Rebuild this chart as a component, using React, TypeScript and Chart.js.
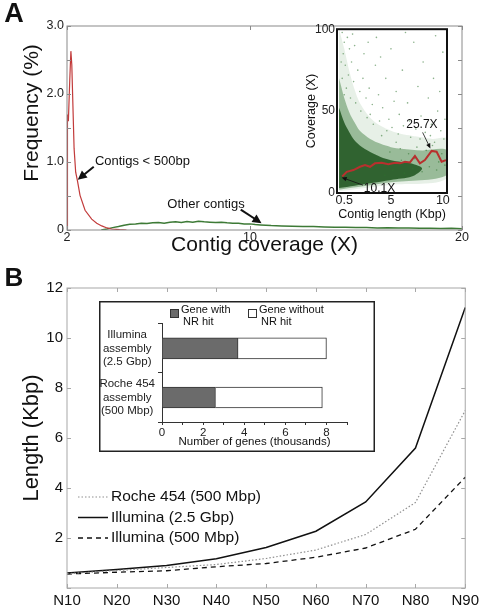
import React, { useEffect, useRef } from "react";
import { Chart, registerables, LinearScale } from "chart.js";

// ---------------- DATA ----------------
// Panel A main: coverage histogram
const RED_COVERAGE = [2.0, 2.02, 2.06, 2.12, 2.17, 2.21, 2.31, 2.38, 2.46, 2.57, 2.79, 3.08, 3.3, 3.52, 3.75, 3.95, 4.3, 4.6];
const RED_FREQ = [0, 1.7, 1.6, 2.2, 2.63, 2.43, 1.2, 0.85, 0.72, 0.51, 0.29, 0.16, 0.1, 0.06, 0.03, 0.015, 0.005, 0];
const GREEN_COVERAGE = [3.5, 3.75, 4.0, 4.25, 4.5, 4.75, 5.0, 5.25, 5.5, 5.75, 6.0, 6.25, 6.5, 6.75, 7.0, 7.25, 7.5, 7.75, 8.0, 8.25, 8.5, 8.75, 9.0, 9.25, 9.5, 9.75, 10.0, 10.25, 10.5, 10.75, 11.0, 11.5, 12.0, 12.5, 13.0, 13.5, 14.0, 14.5, 15.0, 15.5, 16.0, 16.5, 17.0, 17.5, 18.0, 18.5, 19.0, 19.5, 20.0];
const GREEN_FREQ = [0, 0.015, 0.035, 0.05, 0.07, 0.085, 0.09, 0.1, 0.095, 0.105, 0.11, 0.1, 0.115, 0.12, 0.11, 0.125, 0.115, 0.13, 0.12, 0.115, 0.11, 0.115, 0.105, 0.1, 0.1, 0.09, 0.09, 0.08, 0.075, 0.07, 0.065, 0.06, 0.055, 0.05, 0.05, 0.045, 0.04, 0.042, 0.035, 0.038, 0.03, 0.032, 0.028, 0.03, 0.025, 0.027, 0.022, 0.024, 0.02];
const A_X_TICKS = [2, 10, 20];

// Panel A inset: coverage vs contig length
const INSET_RED_LEN = [0.3, 0.74, 1.38, 2.02, 2.5, 2.98, 3.46, 4.1, 4.74, 5.39, 5.87, 6.35, 6.83, 7.31, 7.79, 8.27, 8.92, 9.4, 9.88, 10.3];
const INSET_RED_COV = [10.1, 12.9, 14.0, 16.0, 17.0, 16.0, 18.1, 18.4, 17.6, 18.4, 18.1, 19.1, 18.7, 22.6, 18.1, 20.1, 25.7, 25.2, 19.1, 20.1];
const CLOUD_LIGHT_LEN = [0, 0.5, 1, 1.5, 2, 3, 4, 5, 6, 7, 8, 9, 10.4, 10.4, 5, 0];
const CLOUD_LIGHT_COV = [100, 88, 74, 63, 55, 46, 41, 38, 36, 35, 34, 33, 33, 9, 5, 1];
const CLOUD_MID_LEN = [0, 0.5, 1, 1.5, 2, 3, 4, 5, 6, 8, 10.4, 10.4, 5, 0];
const CLOUD_MID_COV = [70, 58, 49, 43, 38, 33, 30, 28, 27, 26, 26, 11, 6.5, 2];
const CLOUD_DARK_LEN = [0, 0.5, 1, 1.5, 2, 3, 4, 5, 6, 7, 8, 7, 5, 3, 1.5, 0];
const CLOUD_DARK_COV = [52, 43, 37, 32, 29, 25, 22, 20, 19, 18, 15, 10, 8, 6, 4.5, 3];
const DOTS_LEN = [0.3, 0.5, 0.4, 0.8, 0.6, 1.0, 0.9, 1.2, 0.3, 1.5, 1.4, 0.7, 1.8, 2.0, 1.1, 2.3, 2.6, 1.6, 0.5, 2.9, 3.2, 2.1, 0.2, 1.3, 2.4, 3.5, 2.8, 3.8, 4.2, 3.0,
  4.5, 5.0, 5.5, 6.1, 6.6, 7.2, 7.6, 8.1, 8.6, 9.1, 9.7, 10.0, 4.8, 5.8, 6.8, 7.9, 8.9, 9.5, 10.2, 5.3, 3.6, 4.0, 9.3, 6.4,
  3.3, 4.6, 5.1, 5.7, 6.2, 6.9, 7.4, 7.8, 8.3, 8.8, 9.2, 9.8, 10.1, 4.1, 3.9, 2.7,
  5.2, 5.9, 6.3, 6.7, 7.1, 7.5, 8.0, 8.4, 8.7, 9.0, 9.4, 9.9, 10.2, 6.0, 7.3, 8.5, 9.6, 5.5, 4.4, 4.9];
const DOTS_COV = [98, 92, 85, 95, 78, 88, 72, 80, 70, 90, 68, 64, 75, 62, 58, 70, 58, 55, 60, 64, 54, 50, 80, 97, 85, 78, 92, 60, 52, 48,
  70, 88, 62, 75, 55, 92, 65, 80, 58, 70, 62, 86, 45, 48, 44, 47, 42, 50, 45, 56, 95, 83, 96, 98,
  42, 38, 40, 36, 41, 34, 39, 33, 37, 35, 31, 38, 33, 35, 44, 46,
  14, 27, 12, 24, 15, 28, 13, 26, 16, 29, 14, 24, 17, 20, 21, 22, 19, 31, 11, 25];
const INSET_A_X_TICKS = [0.5, 5, 10];

// Panel B main: N-statistics
const N_LABELS = ["N10", "N20", "N30", "N40", "N50", "N60", "N70", "N80", "N90"];
const ROCHE_454 = [0.57, 0.7, 0.82, 0.94, 1.18, 1.52, 2.14, 3.42, 7.1];
const ILLUMINA_25 = [0.6, 0.74, 0.9, 1.17, 1.62, 2.27, 3.44, 5.6, 11.22];
const ILLUMINA_500 = [0.56, 0.63, 0.69, 0.85, 0.98, 1.23, 1.6, 2.35, 4.43];

// Panel B inset: genes
const ASSEMBLIES = [["Illumina", "assembly", "(2.5 Gbp)"], ["Roche 454", "assembly", "(500 Mbp)"]];
const GENES_WITH_NR = [3.7, 2.6];
const GENES_WITHOUT_NR = [4.3, 5.2];
const INSET_B_LEGEND = [["Gene with", "NR hit"], ["Gene without", "NR hit"]];

// ---------------- SETUP ----------------
const FONT = "'Liberation Sans', Arial, Helvetica, sans-serif";

class BrokenLinearScale extends LinearScale {
  static id = "brokenLinear";
  getPixelForValue(value: any) {
    if (value === null || value === undefined || isNaN(+value)) return NaN;
    const o: any = this.options;
    const bv = o.breakValue, bf = o.breakFraction;
    const v = +value;
    const f = v <= bv ? (bf * (v - this.min)) / (bv - this.min) : bf + ((1 - bf) * (v - bv)) / (this.max - bv);
    return this.getPixelForDecimal(f);
  }
  getValueForPixel(pixel: number) {
    const o: any = this.options;
    const bv = o.breakValue, bf = o.breakFraction;
    const f = this.getDecimalForPixel(pixel);
    return f <= bf ? this.min + (f / bf) * (bv - this.min) : bv + ((f - bf) / (1 - bf)) * (this.max - bv);
  }
}
Chart.register(...registerables, BrokenLinearScale);

const zip = (xs: number[], ys: number[]) => xs.map((x, i) => ({ x, y: ys[i] }));
const HIDDEN_GRID = { display: false, drawTicks: false, tickLength: 0 };

// frame + inward ticks
const framePlugin = {
  id: "frame",
  afterDatasetsDraw(chart: any, _a: any, opts: any) {
    if (!opts || !opts.color) return;
    const { ctx, chartArea: a } = chart;
    ctx.save();
    ctx.strokeStyle = opts.color;
    ctx.lineWidth = opts.width;
    ctx.strokeRect(a.left, a.top, a.right - a.left, a.bottom - a.top);
    const tl = opts.tickLen || 0;
    if (tl > 0) {
      ctx.lineWidth = 1;
      ctx.beginPath();
      const xs = chart.scales.x, ys = chart.scales.y;
      xs.ticks.forEach((_t: any, i: number) => {
        const p = Math.round(xs.getPixelForTick(i)) + 0.5;
        ctx.moveTo(p, a.bottom); ctx.lineTo(p, a.bottom - tl);
        ctx.moveTo(p, a.top); ctx.lineTo(p, a.top + tl);
      });
      ys.ticks.forEach((_t: any, i: number) => {
        const p = Math.round(ys.getPixelForTick(i)) + 0.5;
        ctx.moveTo(a.left, p); ctx.lineTo(a.left + tl, p);
        ctx.moveTo(a.right, p); ctx.lineTo(a.right - tl, p);
      });
      ctx.stroke();
    }
    ctx.restore();
  },
};

// annotations in data coordinates
const notesPlugin = {
  id: "notes",
  afterDatasetsDraw(chart: any, _a: any, opts: any) {
    const items = opts && opts.items;
    if (!items) return;
    const { ctx } = chart;
    const xs = chart.scales.x, ys = chart.scales.y;
    ctx.save();
    for (let k = 0; k < items.length; k++) {
      const it = items[k];
      ctx.fillStyle = "#111";
      ctx.strokeStyle = "#111";
      if (it.type === "text") {
        ctx.font = it.font;
        ctx.textAlign = it.align || "left";
        ctx.textBaseline = "middle";
        ctx.fillText(it.text, xs.getPixelForValue(it.x), ys.getPixelForValue(it.y));
      } else {
        const x1 = xs.getPixelForValue(it.x1), y1 = ys.getPixelForValue(it.y1);
        const x2 = xs.getPixelForValue(it.x2), y2 = ys.getPixelForValue(it.y2);
        const ang = Math.atan2(y2 - y1, x2 - x1);
        const h = it.head, w = it.headW;
        const c = Math.cos(ang), s = Math.sin(ang);
        ctx.lineWidth = it.width;
        ctx.beginPath();
        ctx.moveTo(x1, y1);
        ctx.lineTo(x2 - c * h * 0.7, y2 - s * h * 0.7);
        ctx.stroke();
        ctx.beginPath();
        ctx.moveTo(x2, y2);
        ctx.lineTo(x2 - h * c + w * s, y2 - h * s - w * c);
        ctx.lineTo(x2 - h * c - w * s, y2 - h * s + w * c);
        ctx.closePath();
        ctx.fill();
      }
    }
    ctx.restore();
  },
};

// free texts in pixel coordinates (panel letters, rotated titles)
const textsPlugin = {
  id: "texts",
  afterDraw(chart: any, _a: any, opts: any) {
    const items = opts && opts.items;
    if (!items) return;
    const { ctx } = chart;
    ctx.save();
    for (let k = 0; k < items.length; k++) {
      const it = items[k];
      ctx.save();
      ctx.translate(it.x, it.y);
      if (it.rot) ctx.rotate(it.rot);
      ctx.font = it.font;
      ctx.fillStyle = "#111";
      ctx.textAlign = it.align || "center";
      ctx.textBaseline = "middle";
      ctx.fillText(it.text, 0, 0);
      ctx.restore();
    }
    ctx.restore();
  },
};

// line legend for panel B
const lineLegendPlugin = {
  id: "lineLegend",
  afterDraw(chart: any, _a: any, opts: any) {
    if (!opts || opts.x === undefined) return;
    const { ctx } = chart;
    ctx.save();
    chart.data.datasets.forEach((ds: any, i: number) => {
      const y = opts.y + i * opts.rowH;
      ctx.strokeStyle = ds.borderColor;
      ctx.lineWidth = ds.borderWidth;
      ctx.setLineDash(ds.borderDash || []);
      ctx.beginPath();
      ctx.moveTo(opts.x, y);
      ctx.lineTo(opts.x + opts.sample, y);
      ctx.stroke();
      ctx.setLineDash([]);
      ctx.font = opts.font;
      ctx.fillStyle = "#111";
      ctx.textAlign = "left";
      ctx.textBaseline = "middle";
      ctx.fillText(ds.label, opts.x + opts.sample + opts.gap, y);
    });
    ctx.restore();
  },
};

// box legend for inset B + outer frame
const boxLegendPlugin = {
  id: "boxLegend",
  beforeDraw(chart: any) {
    const { ctx, width, height } = chart;
    ctx.save();
    ctx.fillStyle = "#fff";
    ctx.fillRect(0, 0, width, height);
    ctx.restore();
  },
  afterDraw(chart: any, _a: any, opts: any) {
    const { ctx, width, height } = chart;
    ctx.save();
    ctx.strokeStyle = "#222";
    ctx.lineWidth = 1.5;
    ctx.strokeRect(0.75, 0.75, width - 1.5, height - 1.5);
    if (opts && opts.xs) {
      chart.data.datasets.forEach((ds: any, i: number) => {
        const x = opts.xs[i], y = opts.y;
        ctx.fillStyle = ds.backgroundColor;
        ctx.fillRect(x, y, 8, 8);
        ctx.strokeStyle = "#333";
        ctx.lineWidth = 1;
        ctx.strokeRect(x + 0.5, y + 0.5, 8, 8);
        ctx.fillStyle = "#111";
        ctx.font = opts.font;
        ctx.textAlign = "left";
        ctx.textBaseline = "middle";
        INSET_B_LEGEND[i].forEach((line, j) => {
          ctx.fillText(line, x + 11 + (j ? 2 : 0), y + 1 + j * 12);
        });
      });
    }
    ctx.restore();
  },
};

// ---------------- CONFIGS ----------------
function configA(): any {
  return {
    type: "line",
    data: {
      datasets: [
        { label: "Contigs < 500bp", data: zip(RED_COVERAGE, RED_FREQ), borderColor: "#c23b3b", borderWidth: 1.2, pointRadius: 0, tension: 0 },
        { label: "Other contigs", data: zip(GREEN_COVERAGE, GREEN_FREQ), borderColor: "#3d7a36", borderWidth: 1.5, pointRadius: 0, tension: 0 },
      ],
    },
    options: {
      animation: false,
      responsive: false,
      layout: { padding: { top: 26, right: 21, left: 0, bottom: 0 } },
      plugins: {
        legend: { display: false },
        tooltip: { enabled: false },
        frame: { color: "#8a8a8a", width: 1, tickLen: 4 },
        notes: {
          items: [
            { type: "text", text: "Contigs < 500bp", x: 3.22, y: 1.01, font: `13px ${FONT}` },
            { type: "arrow", x1: 3.17, y1: 0.93, x2: 2.47, y2: 0.74, width: 2, head: 9, headW: 4.5 },
            { type: "text", text: "Other contigs", x: 6.39, y: 0.37, font: `13px ${FONT}` },
            { type: "arrow", x1: 9.6, y1: 0.3, x2: 10.55, y2: 0.1, width: 2, head: 9, headW: 4.5 },
          ],
        },
        texts: {
          items: [
            { text: "A", x: 14, y: 15, font: `bold 27px ${FONT}` },
            { text: "Frequency (%)", x: 32, y: 113, rot: -Math.PI / 2, font: `21px ${FONT}` },
          ],
        },
      },
      scales: {
        x: {
          type: "brokenLinear",
          min: 2,
          max: 20,
          breakValue: 10,
          breakFraction: 0.463,
          afterBuildTicks: (s: any) => { s.ticks = A_X_TICKS.map((v) => ({ value: v })); },
          afterFit: (s: any) => { s.height = 28; },
          grid: HIDDEN_GRID,
          border: { display: false },
          ticks: { font: { family: FONT, size: 12.5 }, color: "#222", padding: 0, maxRotation: 0, autoSkip: false, callback: (v: any) => String(v) },
          title: { display: true, text: "Contig coverage (X)", font: { family: FONT, size: 21 }, color: "#111", padding: { top: 0, bottom: 0 } },
        },
        y: {
          min: 0,
          max: 3,
          afterFit: (s: any) => { s.width = 67; },
          grid: HIDDEN_GRID,
          border: { display: false },
          ticks: {
            stepSize: 0.5,
            autoSkip: false,
            font: { family: FONT, size: 12.5 },
            color: "#222",
            padding: 3,
            callback: (v: any) => (v % 1 === 0 ? (v === 0 ? "0" : Number(v).toFixed(1)) : ""),
          },
        },
      },
    },
    plugins: [framePlugin, notesPlugin, textsPlugin],
  };
}

function configInsetA(): any {
  return {
    type: "scatter",
    data: {
      datasets: [
        { type: "line", label: "Mean coverage", data: zip(INSET_RED_LEN, INSET_RED_COV), borderColor: "#b8302e", borderWidth: 2, pointRadius: 0, tension: 0 },
        { type: "scatter", label: "Contigs", data: zip(DOTS_LEN, DOTS_COV), backgroundColor: "rgba(45,115,45,0.55)", borderWidth: 0, pointRadius: 0.8 },
        { type: "line", label: "dense", data: zip(CLOUD_DARK_LEN, CLOUD_DARK_COV), backgroundColor: "rgba(22,78,22,0.8)", borderWidth: 0, pointRadius: 0, fill: "shape", tension: 0.3 },
        { type: "line", label: "mid", data: zip(CLOUD_MID_LEN, CLOUD_MID_COV), backgroundColor: "rgba(45,115,45,0.42)", borderWidth: 0, pointRadius: 0, fill: "shape", tension: 0.3 },
        { type: "line", label: "sparse", data: zip(CLOUD_LIGHT_LEN, CLOUD_LIGHT_COV), backgroundColor: "rgba(70,140,70,0.13)", borderWidth: 0, pointRadius: 0, fill: "shape", tension: 0.3 },
      ],
    },
    options: {
      animation: false,
      responsive: false,
      layout: { padding: { top: 9, right: 13, left: 0, bottom: 0 } },
      plugins: {
        legend: { display: false },
        tooltip: { enabled: false },
        frame: { color: "#111", width: 2, tickLen: 0 },
        notes: {
          items: [
            { type: "text", text: "25.7X", x: 7.98, y: 41.6, align: "center", font: `12px ${FONT}` },
            { type: "arrow", x1: 8.05, y1: 37, x2: 8.8, y2: 27.2, width: 0.8, head: 5, headW: 2.2 },
            { type: "text", text: "10.1X", x: 3.9, y: 2.9, align: "center", font: `12px ${FONT}` },
            { type: "arrow", x1: 2.3, y1: 4.8, x2: 0.25, y2: 9.5, width: 0.8, head: 5, headW: 2.2 },
          ],
        },
      },
      scales: {
        x: {
          type: "linear",
          min: -0.2,
          max: 10.4,
          afterBuildTicks: (s: any) => { s.ticks = INSET_A_X_TICKS.map((v) => ({ value: v })); },
          afterFit: (s: any) => { s.height = 37; },
          grid: HIDDEN_GRID,
          border: { display: false },
          ticks: { font: { family: FONT, size: 12.5 }, color: "#222", padding: 0, maxRotation: 0, autoSkip: false, callback: (v: any) => String(v) },
          title: { display: true, text: "Contig length (Kbp)", font: { family: FONT, size: 12.5 }, color: "#111", padding: { top: 0, bottom: 8 } },
        },
        y: {
          type: "linear",
          min: 0,
          max: 100,
          afterFit: (s: any) => { s.width = 47; },
          grid: HIDDEN_GRID,
          border: { display: false },
          ticks: { stepSize: 50, font: { family: FONT, size: 12 }, color: "#222", padding: 2 },
          title: { display: true, text: "Coverage (X)", font: { family: FONT, size: 12.5 }, color: "#111", padding: { top: 14, bottom: 0 } },
        },
      },
    },
    plugins: [framePlugin, notesPlugin],
  };
}

function configB(): any {
  return {
    type: "line",
    data: {
      labels: N_LABELS,
      datasets: [
        { label: "Roche 454 (500 Mbp)", data: ROCHE_454, borderColor: "#8f8f8f", borderWidth: 1.2, borderDash: [1.5, 2], pointRadius: 0, tension: 0 },
        { label: "Illumina (2.5 Gbp)", data: ILLUMINA_25, borderColor: "#111", borderWidth: 1.5, pointRadius: 0, tension: 0 },
        { label: "Illumina (500 Mbp)", data: ILLUMINA_500, borderColor: "#111", borderWidth: 1.3, borderDash: [5, 4], pointRadius: 0, tension: 0 },
      ],
    },
    options: {
      animation: false,
      responsive: false,
      layout: { padding: { top: 30, right: 17, left: 0, bottom: 0 } },
      plugins: {
        legend: { display: false },
        tooltip: { enabled: false },
        frame: { color: "#a8a8a8", width: 1, tickLen: 4 },
        lineLegend: { x: 78, y: 239, rowH: 20.5, sample: 30, gap: 3, font: `15.5px ${FONT}` },
        texts: { items: [{ text: "B", x: 14, y: 21, font: `bold 26px ${FONT}` }] },
      },
      scales: {
        x: {
          type: "category",
          offset: false,
          afterFit: (s: any) => { s.height = 22; },
          grid: HIDDEN_GRID,
          border: { display: false },
          ticks: { font: { family: FONT, size: 15 }, color: "#111", padding: 4, autoSkip: false, maxRotation: 0 },
        },
        y: {
          min: 0,
          max: 12,
          afterFit: (s: any) => { s.width = 67; },
          grid: HIDDEN_GRID,
          border: { display: false },
          ticks: { stepSize: 2, font: { family: FONT, size: 15 }, color: "#111", padding: 4, callback: (v: any) => (v === 0 ? "" : String(v)) },
          title: { display: true, text: "Length (Kbp)", font: { family: FONT, size: 22 }, color: "#111", padding: { top: 19, bottom: 0 } },
        },
      },
    },
    plugins: [framePlugin, lineLegendPlugin, textsPlugin],
  };
}

function configInsetB(): any {
  return {
    type: "bar",
    data: {
      labels: ASSEMBLIES,
      datasets: [
        { label: "Gene with NR hit", data: GENES_WITH_NR, backgroundColor: "#6b6b6b", borderColor: "#333", borderWidth: 1, barThickness: 21 },
        { label: "Gene without NR hit", data: GENES_WITHOUT_NR, backgroundColor: "#ffffff", borderColor: "#333", borderWidth: 1, barThickness: 21 },
      ],
    },
    options: {
      animation: false,
      responsive: false,
      indexAxis: "y",
      layout: { padding: { top: 15, right: 28, left: 0, bottom: 0 } },
      plugins: {
        legend: { display: false },
        tooltip: { enabled: false },
        boxLegend: { xs: [71, 149], y: 8, font: `11px ${FONT}` },
      },
      scales: {
        x: {
          stacked: true,
          min: 0,
          max: 9,
          afterFit: (s: any) => { s.height = 30; },
          grid: { display: true, drawOnChartArea: false, tickLength: 3, color: "#333" },
          border: { display: true, color: "#333" },
          ticks: { stepSize: 1, autoSkip: false, maxRotation: 0, padding: 1, font: { family: FONT, size: 11.5 }, color: "#222", callback: (v: any) => (v % 2 === 0 ? String(v) : "") },
          title: { display: true, text: "Number of genes (thousands)", font: { family: FONT, size: 11.5 }, color: "#111", padding: { top: 0, bottom: 3 } },
        },
        y: {
          stacked: true,
          afterFit: (s: any) => { s.width = 63; },
          grid: { display: true, drawOnChartArea: false, tickLength: 4, color: "#333" },
          border: { display: true, color: "#333" },
          ticks: { crossAlign: "center", padding: 3, font: { family: FONT, size: 11.5, lineHeight: 1.15 }, color: "#222" },
        },
      },
    },
    plugins: [boxLegendPlugin],
  };
}

// ---------------- COMPONENTS ----------------
function ChartCanvas({ make, left, top, width, height }: { make: () => any; left: number; top: number; width: number; height: number }) {
  const ref = useRef<HTMLCanvasElement>(null);
  useEffect(() => {
    const chart = new Chart(ref.current as HTMLCanvasElement, make());
    return () => chart.destroy();
  }, []);
  return (
    <canvas
      ref={ref}
      width={width}
      height={height}
      style={{ position: "absolute", left, top, width, height, display: "block" }}
    />
  );
}

export default function App() {
  return (
    <div style={{ position: "absolute", left: 0, top: 0, width: 483, height: 610, background: "#fff", overflow: "hidden" }}>
      <ChartCanvas make={configA} left={0} top={0} width={483} height={258} />
      <ChartCanvas make={configInsetA} left={290} top={20} width={170} height={210} />
      <ChartCanvas make={configB} left={0} top={258} width={483} height={352} />
      <ChartCanvas make={configInsetB} left={99} top={301} width={276} height={151} />
    </div>
  );
}
